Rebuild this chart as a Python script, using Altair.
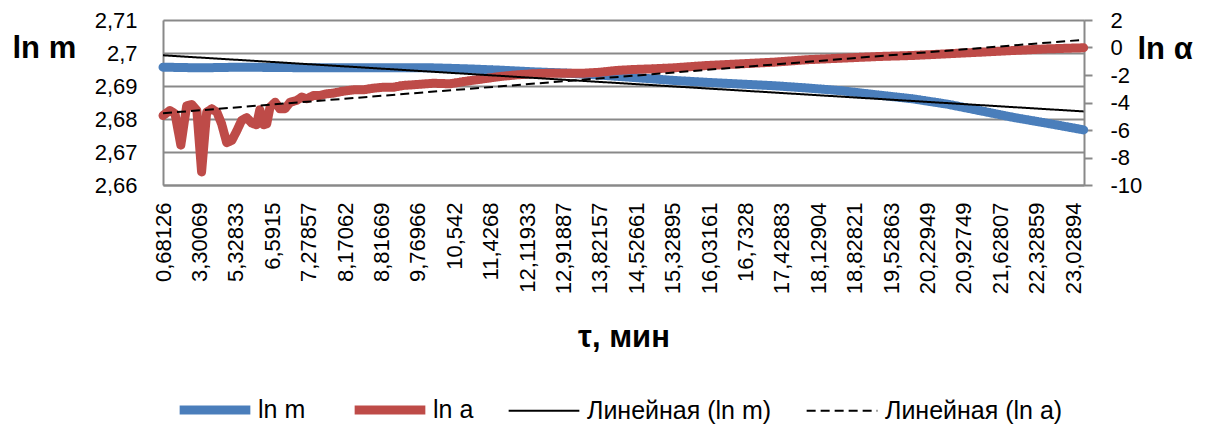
import altair as alt
import pandas as pd

# x-axis category labels (τ, мин) as shown on the chart
tau_labels = ["0,68126", "3,30069", "5,32833", "6,5915", "7,27857", "8,17062",
              "8,81669", "9,76966", "10,542", "11,4268", "12,11933", "12,91887",
              "13,82157", "14,52661", "15,32895", "16,03161", "16,7328", "17,42883",
              "18,12904", "18,82821", "19,52863", "20,22949", "20,92749", "21,62807",
              "22,32859", "23,02894"]

# ln m series (position in label units along the category axis, value)
lnm_pos = [0, 1.02, 2.12, 3.21, 4.31, 5.41, 6.51, 7.42, 8.35, 9.26, 10.16, 11.10,
           12.01, 12.91, 14.01, 14.95, 15.85, 16.76, 17.69, 18.60, 19.70, 20.60,
           21.54, 22.45, 23.35, 24.29, 25.29]
lnm_val = [2.6957, 2.6955, 2.6957, 2.6956, 2.6955, 2.6955, 2.6955, 2.6955, 2.6952,
           2.6948, 2.6943, 2.6939, 2.6933, 2.6926, 2.6917, 2.6911, 2.6906, 2.6901,
           2.6894, 2.6886, 2.6872, 2.6861, 2.6845, 2.6825, 2.6805, 2.6787, 2.6767]

# ln a series
lna_pos = [0.00, 0.19, 0.33, 0.49, 0.65, 0.79, 0.93, 1.06, 1.20, 1.34, 1.48, 1.61,
           1.75, 1.89, 2.02, 2.16, 2.30, 2.44, 2.57, 2.66, 2.76, 2.85, 2.94, 3.08,
           3.21, 3.35, 3.49, 3.67, 3.81, 3.95, 4.13, 4.31, 4.50, 4.68, 4.95, 5.23,
           5.50, 5.78, 6.05, 6.33, 6.60, 6.88, 7.43, 7.88, 8.34, 8.80, 9.26, 9.72,
           10.17, 10.63, 11.09, 11.55, 12.01, 12.46, 12.92, 13.47, 14.02, 14.94,
           15.85, 16.77, 17.68, 18.60, 19.70, 20.60, 21.53, 22.45, 23.35, 24.28, 25.29]
lna_val = [-4.95, -4.58, -4.82, -7.10, -4.25, -4.15, -4.58, -9.05, -4.70, -4.46,
           -4.70, -5.55, -6.92, -6.76, -6.10, -5.30, -5.10, -5.50, -5.62, -4.52,
           -5.62, -5.55, -4.34, -3.98, -4.46, -4.46, -3.98, -3.85, -3.61, -3.73,
           -3.49, -3.49, -3.37, -3.32, -3.18, -3.08, -3.08, -2.96, -2.89, -2.89,
           -2.76, -2.71, -2.60, -2.64, -2.45, -2.28, -2.11, -1.99, -1.91, -1.87,
           -1.87, -1.87, -1.80, -1.67, -1.60, -1.55, -1.48, -1.31, -1.19, -1.07,
           -0.89, -0.78, -0.65, -0.58, -0.46, -0.34, -0.22, -0.10, -0.02]

# linear trend lines (end points)
trend_pos = [0, 25.29]
trend_lnm = [2.6993, 2.6823]
trend_lna = [-4.78, 0.56]

series_names = ["ln m", "ln a", "Линейная (ln m)", "Линейная (ln a)"]
series_colors = ["#4A7EBB", "#BE4B48", "#000000", "#000000"]
series_dash = [[1, 0], [1, 0], [1, 0], [9, 5]]
series_width = [9, 9, 2, 2]

FONT = "Liberation Sans"
GRAY = "#898989"

df_m = pd.DataFrame({"pos": lnm_pos, "v": lnm_val, "series": series_names[0]})
df_a = pd.DataFrame({"pos": lna_pos, "v": lna_val, "series": series_names[1]})
df_tm = pd.DataFrame({"pos": trend_pos, "v": trend_lnm, "series": series_names[2]})
df_ta = pd.DataFrame({"pos": trend_pos, "v": trend_lna, "series": series_names[3]})

label_js = "[" + ",".join("'" + s + "'" for s in tau_labels) + "][datum.value]"

x_enc = alt.X(
    "pos:Q",
    scale=alt.Scale(domain=[0, 25.3], nice=False, zero=False),
    axis=alt.Axis(
        values=list(range(len(tau_labels))), labelExpr=label_js,
        labelAngle=270, labelPadding=17, ticks=False, grid=False,
        domainColor=GRAY, domainWidth=2, labelFont=FONT, labelFontSize=22,
        labelColor="#000000", labelOverlap=False,
        title="τ, мин", titleFont=FONT, titleFontSize=31, titleFontWeight="bold",
        titleColor="#000000", titleAlign="center", titleAnchor="middle",
        titleX=460.5, titleY=161, titleBaseline="alphabetic",
    ),
)

legend = alt.Legend(
    title=None, orient="none", legendX=12, legendY=350, direction="horizontal",
    columns=4, columnPadding=30, labelFont=FONT, labelFontSize=25,
    labelColor="#000000", symbolSize=5000, symbolType="stroke", labelOffset=3,
    labelLimit=400, padding=0,
)

color_enc = alt.Color("series:N", scale=alt.Scale(domain=series_names, range=series_colors), legend=legend)
dash_enc = alt.StrokeDash("series:N", scale=alt.Scale(type="ordinal", domain=series_names, range=series_dash), legend=legend)
width_enc = alt.StrokeWidth("series:N", scale=alt.Scale(type="ordinal", domain=series_names, range=series_width), legend=legend)

left_scale = alt.Scale(domain=[2.66, 2.71], nice=False, zero=False)
right_scale = alt.Scale(domain=[-10, 2], nice=False, zero=False)

left_axis = alt.Axis(
    orient="left", values=[2.66, 2.67, 2.68, 2.69, 2.70, 2.71],
    labelExpr="replace(format(datum.value, '.2~f'), '.', ',')",
    ticks=False, labelPadding=26, grid=True, gridColor=GRAY, gridWidth=2,
    domainColor=GRAY, domainWidth=2, labelFont=FONT, labelFontSize=22,
    labelColor="#000000",
    title="ln m", titleAngle=0, titleX=-151, titleY=37, titleAlign="left",
    titleBaseline="alphabetic", titleFont=FONT, titleFontSize=31,
    titleFontWeight="bold", titleColor="#000000",
)
right_axis = alt.Axis(
    orient="right", values=[-10, -8, -6, -4, -2, 0, 2],
    labelExpr="datum.value + ''", ticks=True, tickSize=8, tickColor=GRAY,
    tickWidth=2, labelPadding=18, grid=False, domainColor=GRAY, domainWidth=2,
    labelFont=FONT, labelFontSize=22, labelColor="#000000", labelAlign="left",
    title="ln α", titleAngle=0, titleX=53, titleY=38, titleAlign="left",
    titleBaseline="alphabetic", titleFont=FONT, titleFontSize=31,
    titleFontWeight="bold", titleColor="#000000",
)

blue = alt.Chart(df_m).mark_line(strokeCap="round", strokeJoin="round").encode(
    x=x_enc, y=alt.Y("v:Q", scale=left_scale, axis=left_axis),
    color=color_enc, strokeDash=dash_enc, strokeWidth=width_enc,
)
red = alt.Chart(df_a).mark_line(strokeCap="round", strokeJoin="round").encode(
    x=x_enc, y=alt.Y("v:Q", scale=right_scale, axis=right_axis),
    color=color_enc, strokeDash=dash_enc, strokeWidth=width_enc,
)
tm = alt.Chart(df_tm).mark_line().encode(
    x=x_enc, y=alt.Y("v:Q", scale=left_scale, axis=None),
    color=color_enc, strokeDash=dash_enc, strokeWidth=width_enc,
)
ta = alt.Chart(df_ta).mark_line().encode(
    x=x_enc, y=alt.Y("v:Q", scale=right_scale, axis=None),
    color=color_enc, strokeDash=dash_enc, strokeWidth=width_enc,
)

chart = alt.layer(blue, red, tm, ta).resolve_scale(y="independent").properties(
    width=921, height=165,
    autosize=alt.AutoSizeParams(type="none"),
    padding={"left": 155, "top": 12, "right": 118, "bottom": 240},
).configure_view(stroke=None).configure(background="white")

chart.save("out.html", embed_options={"renderer": "svg", "actions": False})
